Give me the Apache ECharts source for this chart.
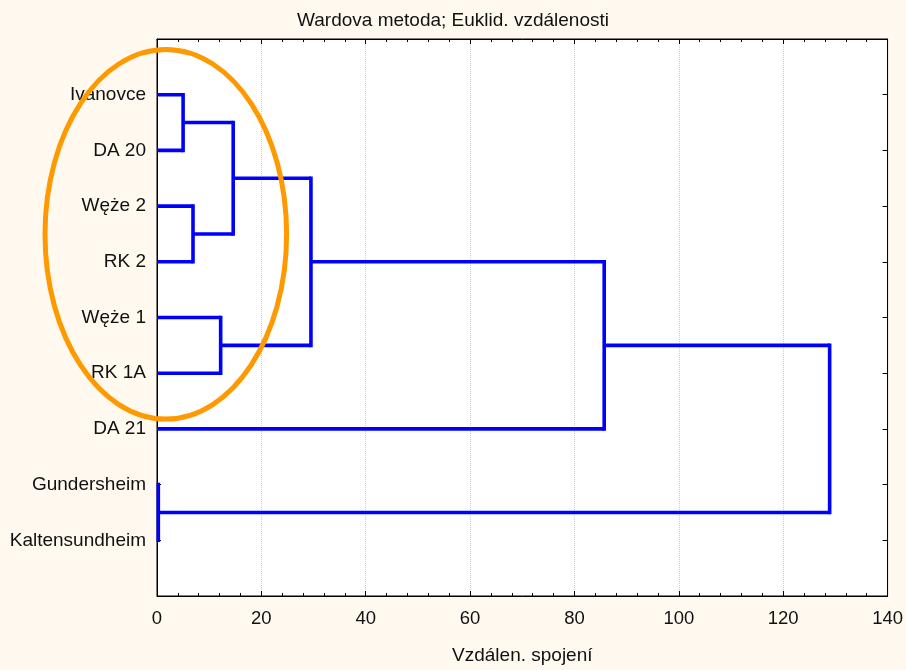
<!DOCTYPE html>
<html>
<head>
<meta charset="utf-8">
<script src="https://cdn.jsdelivr.net/npm/echarts@6/dist/echarts.min.js"></script>
<style>
html,body{margin:0;padding:0;background:#FFF9EF;}
#chart{width:906px;height:670px;}
</style>
</head>
<body>
<div id="chart"></div>
<script>
// Leaves from top to bottom
var leaves = ['Ivanovce', 'DA 20', 'Węże 2', 'RK 2', 'Węże 1', 'RK 1A', 'DA 21', 'Gundersheim', 'Kaltensundheim'];
// Merges: [childA, childB, linkage distance]; indices 0..8 are leaves, 9+ are clusters in merge order
var mergeA = [0, 2, 9, 4, 11, 13, 7, 14];
var mergeB = [1, 3, 10, 5, 12, 6, 8, 15];
var mergeH = [5.0, 6.9, 14.6, 12.2, 29.5, 85.7, 0.25, 128.9];
var xTicks = [0, 20, 40, 60, 80, 100, 120, 140];

var FONT = 'Liberation Sans, Arial, sans-serif';
var nodeY = [], nodeH = [];
for (var i = 0; i < leaves.length; i++) { nodeY.push(i + 1); nodeH.push(0); }
var series = [];
function seg(p, q, cap) {
  return {
    type: 'line', silent: true, symbol: 'none', animation: false, clip: true,
    lineStyle: { color: '#0000FF', width: 3.6, cap: cap },
    data: [p, q], z: 5
  };
}
for (var k = 0; k < mergeH.length; k++) {
  var a = mergeA[k], b = mergeB[k], h = mergeH[k];
  series.push(seg([h, nodeY[a]], [h, nodeY[b]], 'square'));
  series.push(seg([nodeH[a], nodeY[a]], [h, nodeY[a]], 'butt'));
  series.push(seg([nodeH[b], nodeY[b]], [h, nodeY[b]], 'butt'));
  nodeY.push((nodeY[a] + nodeY[b]) / 2);
  nodeH.push(h);
}

var chart = echarts.init(document.getElementById('chart'));
var axisLine = { show: true, onZero: false, lineStyle: { color: '#000', width: 1 } };
var tick = { show: true, inside: true, length: 5, lineStyle: { color: '#000' } };
var minor = { show: true, splitNumber: 5, length: 3, lineStyle: { color: '#000' } };
chart.setOption({
  backgroundColor: '#FFF9EF',
  animation: false,
  title: {
    text: 'Wardova metoda; Euklid. vzdálenosti',
    left: 'center', top: 6,
    textStyle: { fontFamily: FONT, fontSize: 19, fontWeight: 'normal', color: '#111' }
  },
  grid: { left: 157, right: 17, top: 39, bottom: 72, show: true, backgroundColor: '#fff', borderColor: '#000', borderWidth: 1 },
  xAxis: [{
    type: 'value', min: xTicks[0], max: xTicks[xTicks.length - 1], interval: 20, position: 'bottom',
    name: 'Vzdálen. spojení', nameLocation: 'middle', nameGap: 50,
    nameTextStyle: { fontFamily: FONT, fontSize: 19, color: '#111' },
    axisLine: axisLine, axisTick: tick, minorTick: minor,
    axisLabel: { fontFamily: FONT, fontSize: 18.5, color: '#111', margin: 13 },
    splitLine: { show: true, lineStyle: { color: '#cfcfcf', type: 'dotted', width: 1 } }
  }, {
    type: 'value', min: xTicks[0], max: xTicks[xTicks.length - 1], interval: 20, position: 'top',
    axisLine: axisLine, axisTick: tick, minorTick: minor,
    axisLabel: { show: false }, splitLine: { show: false }
  }],
  yAxis: [{
    type: 'value', min: 0, max: 10, interval: 1, inverse: true, position: 'left',
    axisLine: axisLine,
    axisTick: { show: true, inside: true, length: 4, lineStyle: { color: '#000' } },
    axisLabel: {
      fontFamily: FONT, fontSize: 19, color: '#111', margin: 11,
      formatter: function (v) { return leaves[v - 1] || ''; }
    },
    splitLine: { show: false }
  }, {
    type: 'value', min: 0, max: 10, interval: 1, inverse: true, position: 'right',
    axisLine: axisLine, axisTick: tick,
    axisLabel: { show: false }, splitLine: { show: false }
  }],
  series: series,
  graphic: [{
    type: 'ellipse', z: 100, silent: true,
    shape: { cx: 165.8, cy: 234.3, rx: 120.8, ry: 184.8 },
    style: { fill: 'none', stroke: '#FF9900', lineWidth: 5 }
  }]
});
</script>
</body>
</html>
